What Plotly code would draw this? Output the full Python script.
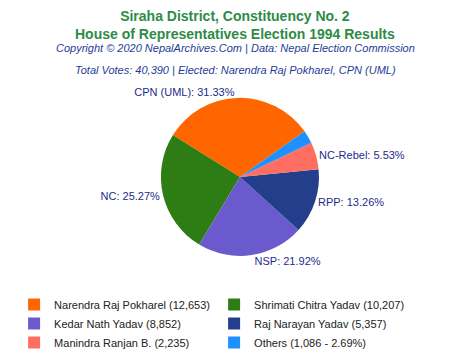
import plotly.graph_objects as go

candidates = ["Narendra Raj Pokharel (12,653)", "Shrimati Chitra Yadav (10,207)",
              "Kedar Nath Yadav (8,852)", "Raj Narayan Yadav (5,357)",
              "Manindra Ranjan B. (2,235)", "Others (1,086 - 2.69%)"]
parties = ["CPN (UML)", "NC", "NSP", "RPP", "NC-Rebel", ""]
votes = [12653, 10207, 8852, 5357, 2235, 1086]
colors = ["#FF6600", "#2E7D14", "#6A5ACD", "#233E8B", "#FF6F61", "#1E90FF"]

total = sum(votes)
texts = [f"{p}: {v / total * 100:.2f}%" if p else "" for p, v in zip(parties, votes)]

fig = go.Figure(go.Pie(
    labels=candidates, values=votes, text=texts, textinfo="text",
    textposition="outside", marker=dict(colors=colors),
    sort=False, direction="counterclockwise", rotation=-58,
    textfont=dict(color="#1F2A8C", size=11, family="Liberation Sans, Arial"),
    domain=dict(x=[0.021, 1], y=[0.273, 0.722]),
    hoverinfo="label+percent", showlegend=True,
))

W, H = 470, 352
def py(p):
    return 1 - p / H

ann = [
    dict(text="<b>Siraha District, Constituency No. 2<br>House of Representatives Election 1994 Results</b>",
         y=py(25), size=14, color="#2E8B47"),
    dict(text="<i>Copyright © 2020 NepalArchives.Com | Data: Nepal Election Commission</i>",
         y=py(48), size=11, color="#1F3C99"),
    dict(text="<i>Total Votes: 40,390 | Elected: Narendra Raj Pokharel, CPN (UML)</i>",
         y=py(70), size=11, color="#1F3C99"),
]
fig.update_layout(
    width=W, height=H, margin=dict(l=0, r=0, t=0, b=0, autoexpand=False),
    paper_bgcolor="white", plot_bgcolor="white",
    font=dict(family="Liberation Sans, Arial", color="#222"),
    annotations=[dict(text=a["text"], x=0.5, y=a["y"], xref="paper", yref="paper",
                      showarrow=False, xanchor="center", yanchor="middle",
                      font=dict(size=a["size"], color=a["color"])) for a in ann],
    legend=dict(orientation="h", x=0.03, y=py(290), xanchor="left", yanchor="top",
                entrywidth=155, font=dict(size=11, color="#222"),
                traceorder="normal"),
)
fig.write_html("out.html")
